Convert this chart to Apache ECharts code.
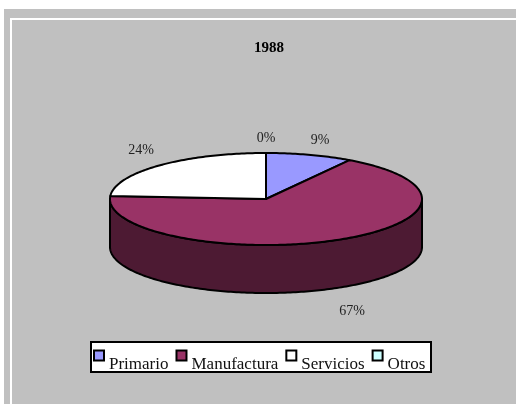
<!DOCTYPE html>
<html><head><meta charset="utf-8">
<style>html,body{margin:0;padding:0;background:#fff}#c{width:516px;height:404px}</style>
<script src="https://cdn.jsdelivr.net/npm/echarts@6/dist/echarts.min.js"></script>
</head><body><div id="c"></div>
<script>
const categories = ['Primario','Manufactura','Servicios','Otros'];
const values = [9,67,24,0];
const topColors = ['#9999ff','#993366','#ffffff','#ccffff'];
const sideColors = ['#4d4d80','#4d1a33','#808080','#668080'];
const labelOffsets = [[54,-59],[86,112],[-125,-49],[0,-61]];
const chartTitle = '1988';

const CX=266, CY=199, RX=156, RY=46, DEPTH=48;
const FONT='"Liberation Serif","Times New Roman",serif';
const total = values.reduce((a,b)=>a+b,0);
const pt = (deg,dy)=>{const r=deg*Math.PI/180;return [CX+RX*Math.sin(r),CY-RY*Math.cos(r)+(dy||0)];};
const arc = (a,b,dy)=>{const n=Math.max(1,Math.ceil(Math.abs(b-a)));const o=[];for(let i=0;i<=n;i++)o.push(pt(a+(b-a)*i/n,dy));return o;};
const order = [0,1,2,3];
function startDeg(idx){let s=0;for(const i of order){if(i===idx)break;s+=values[i];}return s/total*360;}
const lineStyle = {stroke:'#000',lineWidth:2,lineJoin:'round'};

function renderSlice(idx){
  return function(params,api){
    const v=api.value(0), a=startDeg(idx), b=a+v/total*360;
    const kids=[];
    const sa=Math.max(a,90), sb=Math.min(b,270);
    if(sb>sa){
      const front=arc(sa,sb,0), back=arc(sb,sa,DEPTH);
      kids.push({type:'polygon',shape:{points:front.concat(back)},z2:1,
        style:Object.assign({fill:sideColors[idx]},lineStyle)});
    }
    kids.push({type:'polygon',shape:{points:[[CX,CY]].concat(arc(a,b,0))},z2:2,
      style:Object.assign({fill:topColors[idx]},lineStyle)});
    kids.push({type:'text',z2:3,style:{x:CX+labelOffsets[idx][0],y:CY+labelOffsets[idx][1],
      text:v+'%',fill:'#222',font:'14px '+FONT,textAlign:'center',textVerticalAlign:'middle'}});
    return {type:'group',children:kids};
  };
}

const chart=echarts.init(document.getElementById('c'),null,{renderer:'canvas'});
chart.setOption({
  animation:false,
  backgroundColor:'#ffffff',
  title:{text:chartTitle,left:269,top:41,textAlign:'center',padding:0,
    textStyle:{fontFamily:FONT,fontSize:15,fontWeight:'bold',color:'#000'}},
  legend:{
    left:93,top:338,padding:0,itemGap:7,itemWidth:10,itemHeight:10,
    selectedMode:false,align:'left',
    formatter:n=>'{t|'+n+'}',
    textStyle:{fontFamily:FONT,fontSize:17,color:'#111',
      rich:{t:{fontFamily:FONT,fontSize:17,color:'#111',lineHeight:17,padding:[18,0,0,0]}}},
    data:categories.map((n,i)=>({name:n,icon:'rect',
      itemStyle:{color:topColors[i],borderColor:'#000',borderWidth:2}}))
  },
  graphic:[
    {type:'rect',z:-10,silent:true,shape:{x:4,y:9,width:512,height:395},style:{fill:'#c0c0c0'}},
    {type:'rect',z:-9,silent:true,shape:{x:10,y:18,width:506,height:2},style:{fill:'#fff'}},
    {type:'rect',z:-9,silent:true,shape:{x:10,y:18,width:2,height:386},style:{fill:'#fff'}},
    {type:'rect',z:-8,silent:true,shape:{x:91,y:342,width:340,height:30},style:{fill:'#fff',stroke:'#000',lineWidth:2}}
  ],
  series:categories.map((n,i)=>({
    type:'custom',name:n,coordinateSystem:'none',silent:true,
    itemStyle:{color:topColors[i]},
    data:[[values[i]]],
    renderItem:renderSlice(i)
  }))
});
</script></body></html>
